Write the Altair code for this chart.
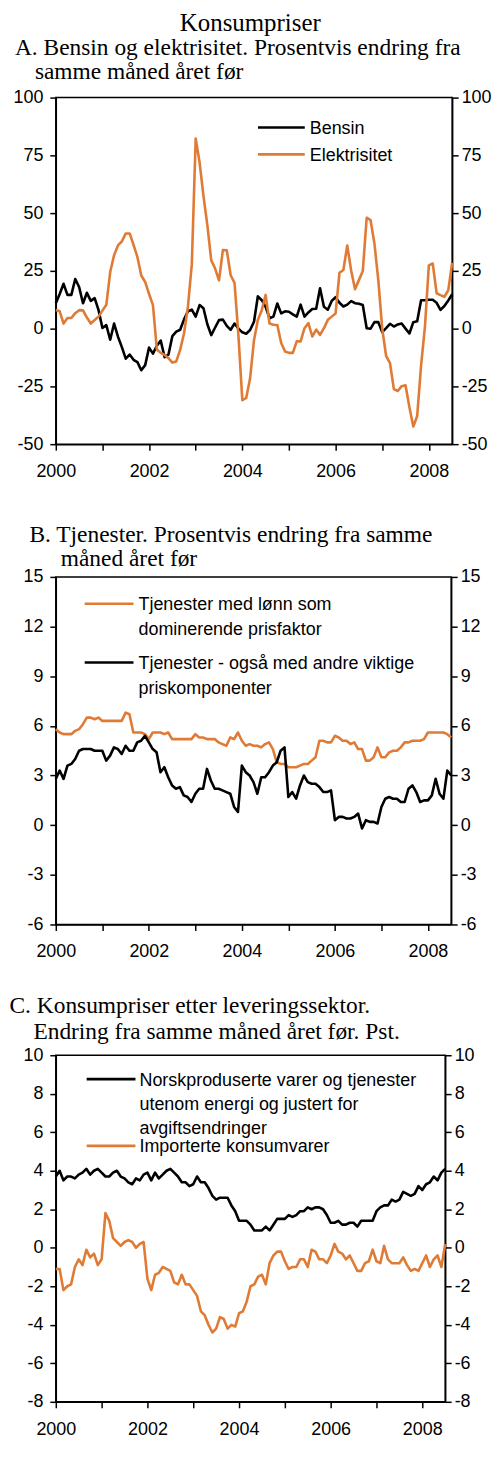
import altair as alt
import pandas as pd

# ---------------- data (monthly, Jan 2000 .. Jul 2008) ----------------
start_year = 2000
n_months = 103

x_tick_years = [2000, 2001, 2002, 2003, 2004, 2005, 2006, 2007, 2008]

# Panel A
bensin = [11, 15, 19.4, 14.6, 14.6, 21.5, 18, 11, 15.5, 12, 13.2, 8, 0.3, 1.5, -4.8, 2.2,
          -3.5, -8, -13, -11.2, -13.5, -14.5, -18, -15.8, -8.2, -10.8, -7.4, -5.2, -12.4, -11.2,
          -3.2, -1.3, -0.5, 4, 7.5, 8.2, 5.2, 10.2, 8.8, 1.9, -2.8, 0.5, 3.7, 3.9, 1.2, -0.5,
          2.2, 0, -1.6, -2.2, -0.6, 3, 14, 12.3, 9.4, 4.5, 5.2, 10.9, 6.6, 7.5, 7.3, 6.2, 5.2,
          10.4, 5.2, 7, 8.5, 8.6, 17.5, 9.5, 8.2, 12, 13.6, 11.2, 9.6, 10.4, 11.9, 11, 10.8,
          10.2, 0.2, 0, 2.8, 2.8, -1.5, 0.2, 2.1, 0.9, 1.8, 2.2, 0, -2.1, 2.8, 3.2, 12.3, 12.3,
          12.5, 12.5, 11.2, 8.1, 9.8, 12.2, 14.9]
elektrisitet = [8.1, 7.5, 2.2, 4.6, 4.6, 6.7, 8, 7.9, 4.8, 2.2, 3.7, 5.2, 7.8, 10.3, 24.5,
                31.8, 36, 37.8, 41.2, 41.2, 36.3, 31, 23, 20.2, 15, 10.2, -9, -10.5, -11.4,
                -12.8, -14.7, -14.2, -9.2, -2, 9.5, 27.8, 82.3, 72, 57.5, 44.8, 29.6, 26, 20.9,
                34, 33.9, 23.1, 19.8, -3, -31, -30, -21.5, -5, 3.8, 8, 14.6, 2.2, 1.7, 1.6,
                -6.2, -9.9, -10.5, -10.5, -5.5, -5.5, 0.2, 2.4, -3.4, -0.4, -2.7, 0.2, 3.8, 5.2,
                6.6, 24.2, 25.4, 36, 25.2, 17.1, 21, 24.9, 48, 47, 36.8, 20.9, 0, -11.8, -14.9,
                -26.2, -27, -24.9, -24.5, -34, -42.4, -37.8, -16, 1, 27.4, 28.2, 15.3, 14.5,
                13.8, 16.6, 28.5]

# Panel B
tj_lonn = [5.8, 5.6, 5.5, 5.5, 5.5, 5.7, 5.8, 6.1, 6.5, 6.5, 6.4, 6.5, 6.3, 6.3, 6.3, 6.3,
           6.3, 6.3, 6.8, 6.7, 5.6, 5.6, 5.6, 5.5, 5.2, 5.6, 5.6, 5.6, 5.5, 5.6, 5.2, 5.2,
           5.2, 5.2, 5.2, 5.2, 5.5, 5.3, 5.3, 5.2, 5.2, 5.2, 5.0, 4.9, 4.8, 5.3, 5.2, 5.6,
           5.1, 4.8, 4.9, 4.8, 4.8, 4.7, 4.9, 5.0, 4.6, 3.8, 3.7, 3.7, 3.5, 3.5, 3.5, 3.6,
           3.7, 3.7, 3.9, 4.1, 5.1, 5.1, 5.0, 5.0, 5.4, 5.3, 5.1, 5.1, 4.9, 5.0, 4.6, 4.6,
           3.9, 3.9, 4.1, 4.7, 4.1, 4.1, 4.4, 4.5, 4.5, 4.7, 5.0, 5.0, 5.1, 5.1, 5.1, 5.2,
           5.6, 5.6, 5.6, 5.6, 5.6, 5.5, 5.3]
tj_andre = [2.8, 3.3, 2.8, 3.6, 3.7, 4.0, 4.5, 4.6, 4.6, 4.6, 4.5, 4.5, 4.5, 3.9, 4.2, 4.7,
            4.6, 4.3, 4.8, 4.5, 4.5, 5.0, 5.1, 5.4, 5.0, 4.6, 4.4, 3.2, 3.5, 2.9, 2.4, 2.2,
            2.3, 1.8, 1.7, 1.4, 1.9, 2.2, 2.2, 3.4, 2.7, 2.2, 2.2, 2.1, 2.0, 1.9, 1.1, 0.8,
            3.6, 3.2, 3.0, 2.6, 1.9, 2.9, 2.9, 3.2, 3.6, 3.8, 4.5, 4.7, 1.7, 2.0, 1.6, 2.4,
            3.0, 2.6, 2.5, 2.5, 2.3, 2.0, 2.0, 2.1, 0.3, 0.5, 0.5, 0.4, 0.4, 0.5, 0.7, -0.2,
            0.3, 0.2, 0.2, 0.1, 1.1, 1.6, 1.7, 1.6, 1.6, 1.4, 1.4, 2.2, 2.4, 2.0, 1.4, 1.5,
            1.5, 1.8, 2.8, 1.9, 1.6, 3.3, 3.0]

# Panel C
norsk = [3.7, 4.0, 3.5, 3.7, 3.7, 3.6, 3.8, 3.9, 4.1, 3.8, 4.0, 4.1, 3.9, 3.7, 3.7, 3.9,
         4.0, 3.7, 3.6, 3.4, 3.3, 3.6, 3.5, 3.8, 3.9, 3.5, 3.9, 3.6, 3.8, 4.0, 4.1, 3.9,
         3.7, 3.4, 3.4, 3.2, 3.3, 3.7, 3.4, 3.4, 3.1, 2.7, 2.5, 2.6, 2.6, 2.6, 2.2, 1.9,
         1.4, 1.4, 1.4, 1.2, 0.9, 0.9, 0.9, 1.1, 0.9, 1.2, 1.5, 1.5, 1.5, 1.7, 1.6, 1.7,
         1.9, 1.9, 2.1, 2.0, 2.1, 2.1, 2.0, 1.7, 1.3, 1.3, 1.4, 1.2, 1.2, 1.3, 1.3, 1.1,
         1.4, 1.4, 1.4, 1.4, 1.9, 2.1, 2.2, 2.2, 2.5, 2.4, 2.5, 2.9, 2.8, 2.7, 2.8, 3.2,
         3.0, 3.3, 3.4, 3.7, 3.5, 3.9, 4.1]
importerte = [-1.1, -1.1, -2.2, -2.0, -1.9, -1.0, -0.6, -0.9, -0.1, -0.5, -0.3, -0.9, -0.6,
              1.8, 1.4, 0.5, 0.3, 0.1, 0.3, 0.4, 0.3, 0.0, 0.2, 0.3, -1.6, -2.2, -1.4, -1.3,
              -1.0, -1.1, -1.2, -1.8, -1.9, -1.4, -1.9, -1.9, -2.2, -2.5, -3.3, -3.5, -4.0,
              -4.4, -4.2, -3.6, -3.7, -4.2, -4.0, -4.1, -3.4, -3.3, -2.8, -2.0, -1.9, -1.5,
              -1.4, -1.9, -0.8, -0.4, -0.2, -0.2, -0.7, -1.1, -1.0, -1.0, -0.6, -0.6, -1.0,
              -0.1, -0.2, -0.6, -0.6, -0.8, -0.4, 0.2, -0.2, -0.3, -0.6, -0.4, -0.8, -1.2,
              -1.2, -0.8, -0.7, -0.1, -0.7, -0.8, 0.1, -0.6, -0.8, -0.8, -0.8, -0.5, -0.9,
              -1.2, -1.1, -1.2, -0.8, -0.4, -1.0, -0.6, -0.4, -1.0, 0.2]

# text
main_title = "Konsumpriser"
titles = {
    "A": ["A. Bensin og elektrisitet. Prosentvis endring fra", "samme måned året før"],
    "B": ["B. Tjenester. Prosentvis endring fra samme", "måned året før"],
    "C": ["C. Konsumpriser etter leveringssektor.", "Endring fra samme måned året før. Pst."],
}
labels = {
    "bensin": "Bensin",
    "elektrisitet": "Elektrisitet",
    "tj_lonn": "Tjenester med lønn som\ndominerende prisfaktor",
    "tj_andre": "Tjenester - også med andre viktige\npriskomponenter",
    "norsk": "Norskproduserte varer og tjenester\nutenom energi og justert for\navgiftsendringer",
    "importerte": "Importerte konsumvarer",
}

ORANGE = "#e07b35"
BLACK = "#000000"
SANS = "Liberation Sans"
SERIF = "Liberation Serif"


def frame(values, name):
    t = [start_year + m / 12 for m in range(n_months)]
    return pd.DataFrame({"t": t, "value": values, "series": name})


x_axis_common = dict(values=x_tick_years, format="d",
                     labelExpr="datum.value % 2 == 0 ? datum.label : ''",
                     tickSize=6, tickWidth=1.5, tickColor="black",
                     domainColor="black", domainWidth=1.5,
                     labelPadding=12.5, labelFont=SANS, labelFontSize=18,
                     labelColor="black", labelFlush=False, labelOverlap=False,
                     grid=False)


def panel(series, ydomain, yvalues, width, height, tkey, title_pos, legend, extra_bottom):
    xscale = alt.Scale(domain=[2000, 2008.5], nice=False, zero=False)
    yscale = alt.Scale(domain=ydomain, nice=False, zero=False)
    if extra_bottom > 0:
        xaxis = alt.Axis(title="\u00a0", titleFontSize=2, titlePadding=extra_bottom,
                         **x_axis_common)
    else:
        xaxis = alt.Axis(title=None, **x_axis_common)
    yaxis_common = dict(values=yvalues, labelExpr="toString(datum.value)",
                        tickSize=6, tickWidth=1.5, tickColor="black",
                        domainColor="black", domainWidth=1.5,
                        labelFont=SANS, labelFontSize=18, labelColor="black",
                        grid=False, title=None, labelFlush=False, labelOverlap=False)
    X = alt.X("t:Q", scale=xscale, axis=xaxis)
    zero = pd.DataFrame({"y": [0]})
    layers = [
        alt.Chart(zero).mark_rule(color="black", strokeWidth=1.3).encode(
            x=X, y=alt.Y("y:Q", scale=yscale,
                         axis=alt.Axis(orient="left", labelPadding=7, **yaxis_common))),
        alt.Chart(zero).mark_rule(color="black", strokeWidth=1.3).encode(
            x=X, y=alt.Y("y:Q", scale=yscale,
                         axis=alt.Axis(orient="right", labelPadding=3, **yaxis_common))),
    ]
    for values, name, color in series:
        layers.append(
            alt.Chart(frame(values, name)).mark_line(color=color, strokeWidth=2.6,
                                                     strokeJoin="round").encode(
                x=X, y=alt.Y("value:Q", scale=yscale, axis=None)))
    # panel title (two lines, hanging indent)
    for line, (tx, ty) in zip(titles[tkey], title_pos):
        layers.append(alt.Chart(pd.DataFrame({"txt": [line]})).mark_text(
            align="left", baseline="alphabetic", font=SERIF, fontSize=23.5,
            color="black").encode(text="txt:N", x=alt.value(tx), y=alt.value(ty)))
    # manual legend
    for (name, color), pos in legend:
        df = pd.DataFrame({"label": [labels[name]]})
        layers.append(alt.Chart(df).mark_rule(color=color, strokeWidth=2.6).encode(
            x=alt.value(pos["x1"]), x2=alt.value(pos["x2"]), y=alt.value(pos["y"])))
        layers.append(alt.Chart(df).mark_text(
            align="left", baseline="alphabetic", font=SANS, fontSize=18, color="black",
            lineBreak="\n", lineHeight=pos["lh"]).encode(
            text="label:N", x=alt.value(pos["tx"]), y=alt.value(pos["y"] + 6.5)))
    return alt.layer(*layers).resolve_axis(y="independent").properties(
        width=width, height=height)


pA = panel([(bensin, "Bensin", BLACK), (elektrisitet, "Elektrisitet", ORANGE)],
           [-50, 100], [-50, -25, 0, 25, 50, 75, 100], 398, 348, "A",
           [(-41, -43), (-21, -19)],
           [(("bensin", BLACK), dict(x1=203, x2=250, y=30, tx=255, lh=25)),
            (("elektrisitet", ORANGE), dict(x1=203, x2=250, y=57, tx=255, lh=25))],
           8.4)
pB = panel([(tj_lonn, "lonn", ORANGE), (tj_andre, "andre", BLACK)],
           [-6, 15], [-6, -3, 0, 3, 6, 9, 12, 15], 397, 349, "B",
           [(-26.5, -35), (5, -11)],
           [(("tj_lonn", ORANGE), dict(x1=29, x2=78, y=27, tx=83, lh=25)),
            (("tj_andre", BLACK), dict(x1=29, x2=78, y=86, tx=83, lh=25))],
           0)
pC = panel([(norsk, "norsk", BLACK), (importerte, "imp", ORANGE)],
           [-8, 10], [-8, -6, -4, -2, 0, 2, 4, 6, 8, 10], 391, 348, "C",
           [(-46.5, -42.4), (-22.5, -16.4)],
           [(("norsk", BLACK), dict(x1=31, x2=80, y=24, tx=84, lh=24.5)),
            (("importerte", ORANGE), dict(x1=31, x2=80, y=91, tx=84, lh=25))],
           0)

chart = alt.vconcat(pA, pB, pC, spacing=30.3).properties(
    title=alt.TitleParams(main_title, anchor="middle", font=SERIF, fontSize=25,
                          fontWeight="normal", color="black", offset=-1),
    padding={"left": 0, "top": 0, "right": 0, "bottom": 0},
).configure_view(stroke="black", strokeWidth=1.5)

chart.save("out.html", embed_options={"renderer": "svg", "actions": False})
